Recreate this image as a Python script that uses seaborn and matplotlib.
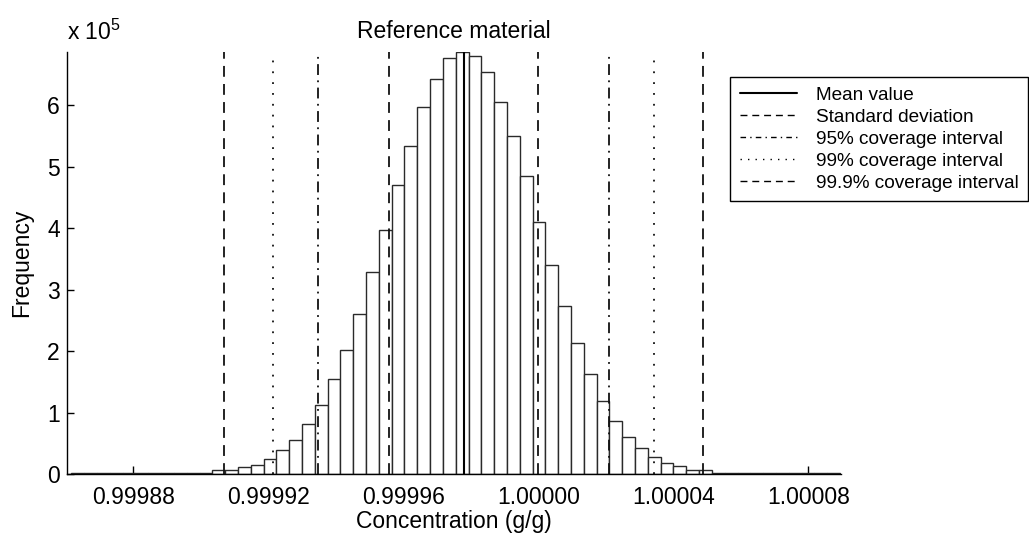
import numpy as np
import pandas as pd
import matplotlib
matplotlib.use("Agg")
import matplotlib.pyplot as plt
import seaborn as sns
from matplotlib.lines import Line2D
from matplotlib.ticker import FuncFormatter, FixedLocator

# ---------------- data ----------------
counts = [1500, 1500, 1500, 1500, 1500, 1500, 1500, 1500, 1500, 1500, 1500,
          7000, 7000, 11000, 14500, 24000, 39000, 56000, 81000, 113000,
          154000, 201000, 260000, 328000, 396000, 470000, 534000, 596000,
          643000, 676000, 686700, 679000, 653000, 605000, 549000, 484000,
          410000, 340000, 273000, 213000, 163000, 119000, 86000, 60000,
          42000, 28000, 18000, 12500, 6500, 6500,
          1500, 1500, 1500, 1500, 1500, 1500, 1500, 1500, 1500, 1500]
bin_lo = 0.9998617
bin_hi = 1.0000894
x_limits = [0.9998603, 1.0000896]

mean_value = 0.9999780
sd_limits = [0.99995585, 0.9999999]
ci95_limits = [0.9999348, 1.0000209]
ci99_limits = [0.9999215, 1.0000343]
ci999_limits = [0.9999069, 1.0000487]

xtick_values = [0.99988, 0.99992, 0.99996, 1.00000, 1.00004, 1.00008]
xtick_labels = ["0.99988", "0.99992", "0.99996", "1.00000", "1.00004", "1.00008"]
ytick_values = [0, 100000, 200000, 300000, 400000, 500000, 600000]

legend_labels = ["Mean value", "Standard deviation", "95% coverage interval",
                 "99% coverage interval", "99.9% coverage interval"]

# ---------------- style ----------------
sns.set_theme(style="white")
plt.rcParams['font.family'] = ['Liberation Sans', 'DejaVu Sans']
plt.rcParams['mathtext.fontset'] = 'custom'
plt.rcParams['mathtext.rm'] = 'Liberation Sans'
plt.rcParams['mathtext.it'] = 'Liberation Sans'
plt.rcParams['text.color'] = 'black'
plt.rcParams['axes.labelcolor'] = 'black'
plt.rcParams['xtick.color'] = 'black'
plt.rcParams['ytick.color'] = 'black'

FS = 16.5
LFS = 13.7

ls_sd = (0, (6, 4))
ls_95 = (0, (6, 3, 1, 3))
ls_99 = (0, (1, 5))
ls_999 = (0, (6, 4))

fig = plt.figure(figsize=(10.29, 5.38), dpi=100)
ax = fig.add_axes([66.7 / 1029, 64 / 538, 774 / 1029, 422.3 / 538])

width = (bin_hi - bin_lo) / len(counts)
centers = bin_lo + width * (np.arange(len(counts)) + 0.5)
df = pd.DataFrame({"conc": centers, "freq": counts})

sns.histplot(data=df, x="conc", weights="freq", bins=len(counts),
             binrange=(bin_lo, bin_hi), ax=ax,
             stat="count", fill=True, color="white", edgecolor="#2a2a2a",
             linewidth=1.0, alpha=1)

ax.axvline(mean_value, color="black", lw=1.5, ls="-")
for v in sd_limits:
    ax.axvline(v, color="#111111", lw=1.3, ls=ls_sd)
for v in ci95_limits:
    ax.axvline(v, color="#111111", lw=1.3, ls=ls_95)
for v in ci99_limits:
    ax.axvline(v, color="#111111", lw=1.3, ls=ls_99)
for v in ci999_limits:
    ax.axvline(v, color="#111111", lw=1.3, ls=ls_999)

ax.set_xlim(*x_limits)
ax.set_ylim(0, max(counts))

ax.xaxis.set_major_locator(FixedLocator(xtick_values))
ax.set_xticklabels(xtick_labels)
ax.yaxis.set_major_locator(FixedLocator(ytick_values))
ax.yaxis.set_major_formatter(FuncFormatter(lambda v, p: f"{v / 1e5:g}"))

for s in ["top", "right"]:
    ax.spines[s].set_visible(False)
for s in ["left", "bottom"]:
    ax.spines[s].set_color("black")
    ax.spines[s].set_linewidth(1.0)

ax.tick_params(axis="x", direction="in", length=6, width=1, color="black",
               labelcolor="black", labelsize=FS, pad=9, bottom=True)
ax.tick_params(axis="y", direction="in", length=5, width=1, color="black",
               labelcolor="black", labelsize=FS, pad=5, left=True)

ax.set_xlabel("Concentration (g/g)", fontsize=FS, color="black")
ax.set_ylabel("Frequency", fontsize=FS, color="black")
ax.xaxis.set_label_coords(0.5, -0.085)
ax.yaxis.set_label_coords(-0.044, 0.5)
ax.set_title("Reference material", fontsize=FS, pad=10, color="black")

fig.text(66.7 / 1029, 1 - 40 / 538, r"x 10$^{5}$", fontsize=FS,
         ha="left", va="baseline", color="black")

handles = [
    Line2D([], [], color="black", lw=1.5, ls="-"),
    Line2D([], [], color="black", lw=1.0, ls=(0, (5, 3.5))),
    Line2D([], [], color="black", lw=1.0, ls=(0, (4, 3, 1, 3))),
    Line2D([], [], color="black", lw=1.0, ls=(0, (1, 4.4))),
    Line2D([], [], color="black", lw=1.0, ls=(0, (5, 3.5))),
]
leg = ax.legend(handles, legend_labels, loc="upper left",
                bbox_to_anchor=(730 / 1029, 1 - 76.7 / 538),
                bbox_transform=fig.transFigure, fontsize=LFS,
                frameon=True, fancybox=False, framealpha=1,
                edgecolor="black", handlelength=3.0, handletextpad=1.0,
                labelspacing=0.25, borderpad=0.5, borderaxespad=0)
leg.get_frame().set_linewidth(1.0)
for t in leg.get_texts():
    t.set_color("black")

fig.savefig("out.png", dpi=100)
